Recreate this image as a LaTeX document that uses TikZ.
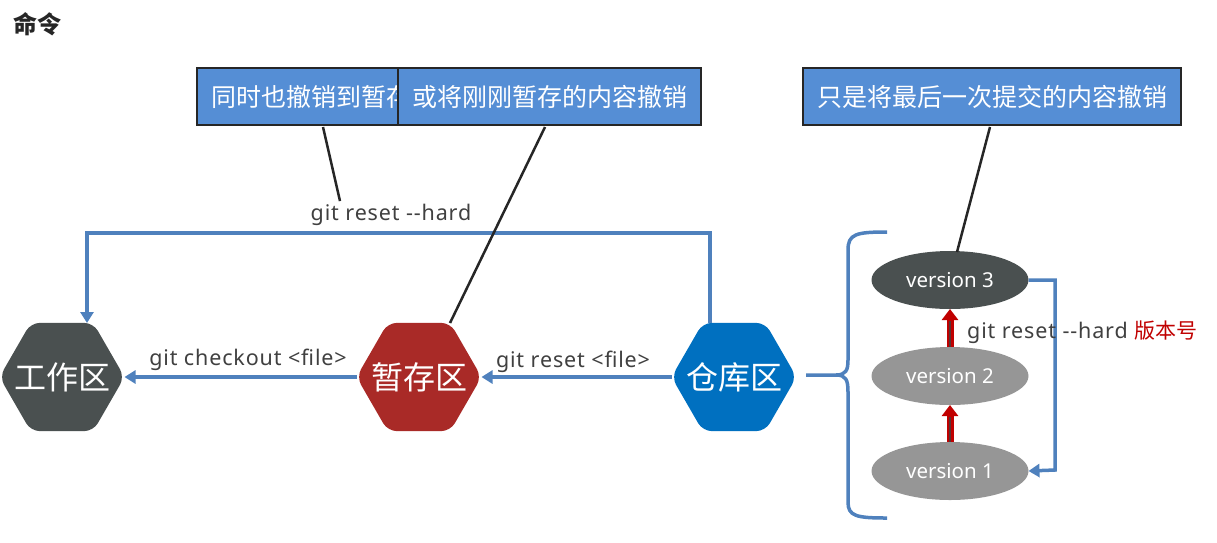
\documentclass[tikz,border=0pt]{standalone}
\usepackage{fontspec}
\setmainfont{Noto Sans}
\newfontfamily\cjk{Noto Sans CJK SC}
\newfontfamily\cmdfont{Noto Sans}[LetterSpace=4]
\usetikzlibrary{shapes.geometric,arrows.meta,calc}
\definecolor{boxblue}{HTML}{558ED5}
\definecolor{lineblue}{HTML}{4F81BD}
\definecolor{darkhex}{HTML}{4A5050}
\definecolor{redhex}{HTML}{A92A27}
\definecolor{bluehex}{HTML}{0070C0}
\definecolor{lightell}{HTML}{969696}
\definecolor{txtgray}{HTML}{404040}
\definecolor{darkred}{HTML}{C00000}
\definecolor{edge}{HTML}{262626}
\tikzset{
  note/.style={draw=edge, line width=2.8pt, fill=boxblue, text=white, font=\cjk\fontsize{25}{28}\selectfont, minimum height=57pt, inner xsep=14pt, inner ysep=0pt, outer sep=0pt, anchor=north west},
  hex/.style={regular polygon, regular polygon sides=6, minimum size=125pt, inner sep=0pt, outer sep=0pt, rounded corners=9pt},
  hextext/.style={text=white, font=\cjk\fontsize{32}{34}\selectfont},
  ver/.style={ellipse, minimum width=157pt, minimum height=58pt, inner sep=0pt, outer sep=0pt, text=white, font=\fontsize{20.5}{22}\selectfont},
  cmd/.style={text=txtgray, font=\cmdfont\fontsize{21.5}{23}\selectfont, inner sep=0pt},
  bline/.style={draw=lineblue, line width=3.5pt},
  barrow/.style={bline, -{Triangle[width=13pt,length=11pt]}},
  callout/.style={draw=edge, line width=2.5pt},
  redarrow/.style={draw=darkred, line width=7pt, -{Triangle[width=16pt,length=11pt]}},
  redcore/.style={draw=txtgray!80!darkred, line width=1.3pt}
}
\begin{document}
\begin{tikzpicture}[x=1pt,y=-1pt]
\useasboundingbox (0,0) rectangle (1217,542);
% title
\node[anchor=west, inner sep=0pt, font=\cjk\fontsize{24}{26}\selectfont\bfseries, text=edge] (title) at (13,24) {命令};
% callout boxes
\node[note, minimum width=201pt] (box1) at (197,68) {\makebox[173pt][l]{同时也撤销到暂存}};
\node[note, minimum width=295pt] (box2) at (398,68) {或将刚刚暂存的内容撤销};
\node[note, minimum width=374pt] (box3) at (803,68) {只是将最后一次提交的内容撤销};
% hexagons
\node[hex, fill=darkhex, label={[hextext]center:工作区}] (work) at (62,377) {};
\node[hex, fill=redhex, label={[hextext]center:暂存区}] (stage) at (419,377) {};
\node[hex, fill=bluehex, label={[hextext]center:仓库区}] (repo) at (734,377) {};
% versions
\node[ver, fill=darkhex] (v3) at (950,280) {version 3};
\node[ver, fill=lightell] (v2) at (950,376) {version 2};
\node[ver, fill=lightell] (v1) at (950,471) {version 1};
% labels
\node[cmd] (hard) at (391,215) {git reset -{}-hard};
\node[cmd] (checkout) at (248,360) {git checkout <file>};
\node[cmd] (resetfile) at (573,362) {git reset <file>};
% coordinates
\coordinate (rtop) at ($(repo.center)+(-24,-54)$);
\coordinate (wtop) at ($(work.center)+(25,-54)$);
\coordinate (stop) at ($(stage.center)+(31,-54)$);
% reset --hard path
\draw[barrow] (rtop) -- (710,233) -- (87,233) -- (wtop);
% horizontal arrows
\draw[barrow] (stage.west) -- (work.east);
\draw[barrow] (repo.west) -- (stage.east);
% callout lines
\draw[callout] ($(box1.south west)+(126,2)$) -- ($(hard.north)+(-51,-3)$);
\draw[callout] ($(box2.south west)+(147,2)$) -- (stop);
\draw[callout] ($(box3.south west)+(187,2)$) -- ($(v3.north)+(7,1)$);
% brace
\draw[bline] (887,232) .. controls (856,232) and (848,234) .. (848,250) -- (848,360)
  .. controls (848,370) and (846,375) .. (836,375) -- (806,375);
\draw[bline] (836,375) .. controls (846,375) and (848,380) .. (848,392) -- (848,502)
  .. controls (848,516) and (856,518) .. (887,518);
% version reset path
\draw[barrow] (v3.east) -- (1055,280) -- (1055,470) -- (v1.east);
% red arrows
\draw[redarrow] (v2.north) -- (v3.south);
\draw[redcore] (v2.north) -- ($(v3.south)+(0,12)$);
\draw[redarrow] (v1.north) -- (v2.south);
\draw[redcore] (v1.north) -- ($(v2.south)+(0,12)$);
\node[cmd, anchor=west] (hardver) at (967,332) {git reset -{}-hard \textcolor{darkred}{\cjk\fontsize{21}{23}\selectfont 版本号}};
\end{tikzpicture}
\end{document}
